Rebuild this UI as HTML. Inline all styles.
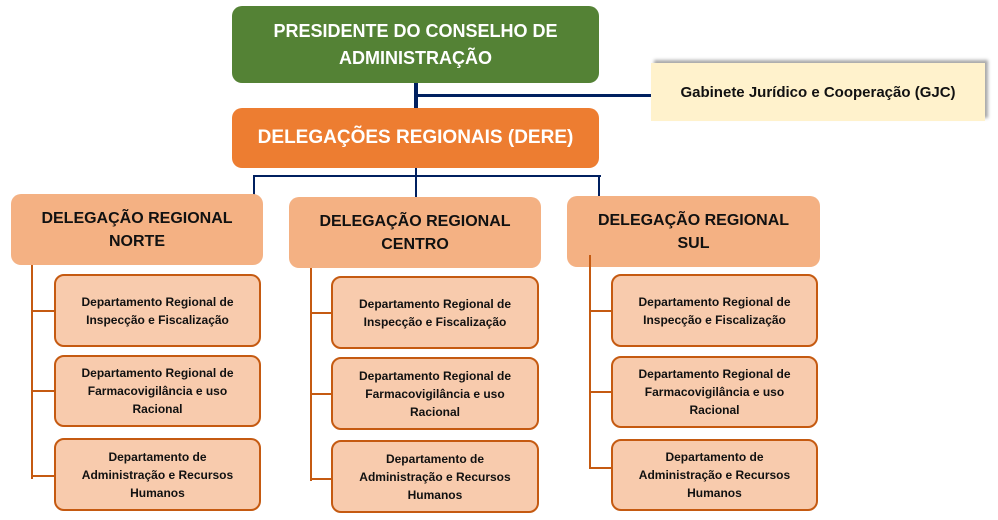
<!DOCTYPE html>
<html><head><meta charset="utf-8"><style>
body{margin:0;width:998px;height:520px;background:#fff;position:relative;overflow:hidden;font-family:"Liberation Sans",sans-serif;font-weight:bold}
.b{position:absolute;box-sizing:border-box;display:flex;align-items:center;justify-content:center;text-align:center}
.g{background:#548235;color:#fff;border-radius:10px;font-size:18px;line-height:27px}
.o{background:#ed7d31;color:#fff;border-radius:10px;font-size:19px}
.r{background:#f4b183;color:#111;border-radius:10px;font-size:16px;line-height:23px}
.c{background:#f8cbad;color:#111;border:2px solid #c55a11;border-radius:10px;font-size:12px;line-height:18px}
.y{background:#fff2cc;color:#111;font-size:15px;box-shadow:3px -3px 3px #aaa}
.l{position:absolute;background:#002060}
.v{position:absolute;background:#c55a11}
</style></head><body>
<div class="l" style="left:414px;top:83px;width:4px;height:26px"></div>
<div class="l" style="left:418px;top:94px;width:234px;height:3px"></div>
<div class="l" style="left:253px;top:175px;width:348px;height:2px"></div>
<div class="l" style="left:253px;top:175px;width:2px;height:20px"></div>
<div class="l" style="left:415px;top:168px;width:2px;height:30px"></div>
<div class="l" style="left:598px;top:175px;width:2px;height:22px"></div>

<div class="b g" style="left:232px;top:6px;width:367px;height:77px">PRESIDENTE DO CONSELHO DE<br>ADMINISTRAÇÃO</div>
<div class="b y" style="left:651px;top:63px;width:334px;height:58px">Gabinete Jurídico e Cooperação (GJC)</div>
<div class="b o" style="left:232px;top:108px;width:367px;height:60px">DELEGAÇÕES REGIONAIS (DERE)</div>

<div class="b r" style="left:11px;top:194px;width:252px;height:71px">DELEGAÇÃO REGIONAL<br>NORTE</div>
<div class="b r" style="left:289px;top:197px;width:252px;height:71px">DELEGAÇÃO REGIONAL<br>CENTRO</div>
<div class="b r" style="left:567px;top:196px;width:253px;height:71px">DELEGAÇÃO REGIONAL<br>SUL</div>

<div class="v" style="left:31px;top:265px;width:2px;height:214px"></div>
<div class="v" style="left:31px;top:310px;width:23px;height:2px"></div>
<div class="v" style="left:31px;top:390px;width:23px;height:2px"></div>
<div class="v" style="left:31px;top:475px;width:23px;height:2px"></div>
<div class="b c" style="left:54px;top:274px;width:207px;height:73px">Departamento Regional de<br>Inspecção e Fiscalização</div>
<div class="b c" style="left:54px;top:355px;width:207px;height:72px">Departamento Regional de<br>Farmacovigilância e uso<br>Racional</div>
<div class="b c" style="left:54px;top:438px;width:207px;height:73px">Departamento de<br>Administração e Recursos<br>Humanos</div>

<div class="v" style="left:310px;top:268px;width:2px;height:213px"></div>
<div class="v" style="left:310px;top:312px;width:23px;height:2px"></div>
<div class="v" style="left:310px;top:393px;width:23px;height:2px"></div>
<div class="v" style="left:310px;top:478px;width:23px;height:2px"></div>
<div class="b c" style="left:331px;top:276px;width:208px;height:73px">Departamento Regional de<br>Inspecção e Fiscalização</div>
<div class="b c" style="left:331px;top:357px;width:208px;height:73px">Departamento Regional de<br>Farmacovigilância e uso<br>Racional</div>
<div class="b c" style="left:331px;top:440px;width:208px;height:73px">Departamento de<br>Administração e Recursos<br>Humanos</div>

<div class="v" style="left:589px;top:255px;width:2px;height:214px"></div>
<div class="v" style="left:589px;top:310px;width:23px;height:2px"></div>
<div class="v" style="left:589px;top:391px;width:23px;height:2px"></div>
<div class="v" style="left:589px;top:467px;width:23px;height:2px"></div>
<div class="b c" style="left:611px;top:274px;width:207px;height:73px">Departamento Regional de<br>Inspecção e Fiscalização</div>
<div class="b c" style="left:611px;top:356px;width:207px;height:72px">Departamento Regional de<br>Farmacovigilância e uso<br>Racional</div>
<div class="b c" style="left:611px;top:439px;width:207px;height:72px">Departamento de<br>Administração e Recursos<br>Humanos</div>
</body></html>
